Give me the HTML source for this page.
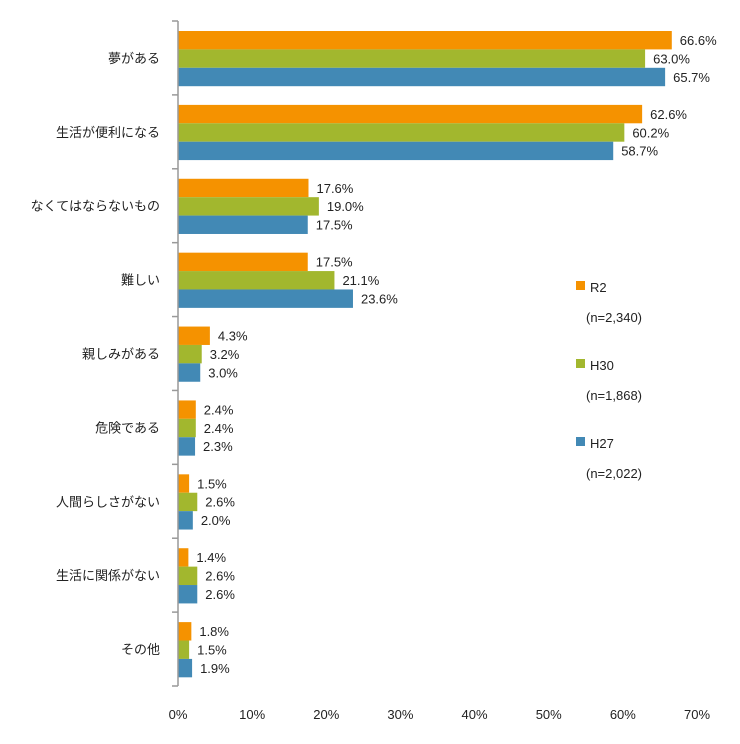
<!DOCTYPE html>
<html><head><meta charset="utf-8"><style>
body{margin:0;background:#fff}
text{font-family:"Liberation Sans","Noto Sans CJK JP",sans-serif;fill:#222}
</style></head><body>
<svg width="740" height="739" xmlns="http://www.w3.org/2000/svg">
<g id="g"></g>
</svg>
<script>
const categories=["夢がある","生活が便利になる","なくてはならないもの","難しい","親しみがある","危険である","人間らしさがない","生活に関係がない","その他"];
const r2=[66.6,62.6,17.6,17.5,4.3,2.4,1.5,1.4,1.8];
const h30=[63.0,60.2,19.0,21.1,3.2,2.4,2.6,2.6,1.5];
const h27=[65.7,58.7,17.5,23.6,3.0,2.3,2.0,2.6,1.9];
const seriesNames=["R2","H30","H27"];
const seriesN=["(n=2,340)","(n=1,868)","(n=2,022)"];
const xTicks=[0,10,20,30,40,50,60,70];
const colors=["#F59200","#A2B72E","#4289B5"];
const NS="http://www.w3.org/2000/svg";
const g=document.getElementById('g');
const x0=178,x1=697,y0=21,y1=686;
const band=(y1-y0)/categories.length;
const xs=v=>x0+(v/70)*(x1-x0);
function mk(t,a){const e=document.createElementNS(NS,t);for(const k in a)e.setAttribute(k,a[k]);g.appendChild(e);return e;}
const series=[r2,h30,h27];
categories.forEach((c,i)=>{
  const top=y0+i*band;
  const t=mk('text',{x:160,y:top+band/2+5,'text-anchor':'end','font-size':13});
  t.textContent=c;
  
  
  series.forEach((s,j)=>{
    const by=top+10+j*18.4;
    const r=mk('rect',{x:x0,y:by,width:xs(s[i])-x0,height:18.4,fill:colors[j]});
    
    
    const l=mk('text',{x:xs(s[i])+8,y:by+14,'font-size':13});
    l.textContent=s[i].toFixed(1)+'%';
    
    
  });
});
for(let i=0;i<=categories.length;i++){
  const y=y0+i*band;
  const tk=mk('line',{x1:172,x2:x0,y1:y,y2:y,stroke:'#999','stroke-width':1.5});
  
  
}
const ax=mk('line',{x1:x0,x2:x0,y1:y0,y2:y1,stroke:'#999','stroke-width':1.5});


xTicks.forEach(v=>{
  const t=mk('text',{x:xs(v),y:719,'text-anchor':'middle','font-size':13});
  t.textContent=v+'%';
  
  
});
seriesNames.forEach((n,j)=>{
  const y=287+j*78;
  const r=mk('rect',{x:576,y:y-6,width:9,height:9,fill:colors[j]});
  
  
  const t=mk('text',{x:590,y:y+5,'font-size':13});
  t.textContent=n;
  
  
  const t2=mk('text',{x:586,y:y+35,'font-size':13});
  t2.textContent=seriesN[j];
  
  
});
</script>
</body></html>
